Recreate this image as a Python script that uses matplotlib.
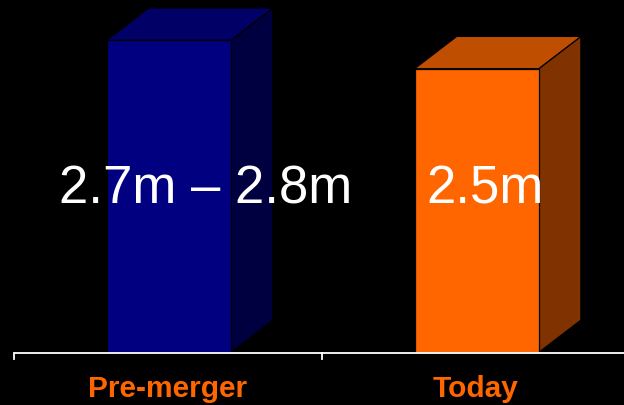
import matplotlib
matplotlib.use("Agg")
import matplotlib.pyplot as plt
from matplotlib.patches import Polygon

categories = ["Pre-merger", "Today"]
value_low = [2.7, 2.5]
value_high = [2.8, 2.5]
value_labels = ["2.7m \u2013 2.8m", "2.5m"]

front_colors = ["#000080", "#FF6600"]
top_colors = ["#000066", "#C04E00"]
side_colors = ["#000040", "#803300"]

fig = plt.figure(figsize=(6.24, 4.05), dpi=100, facecolor="black")
ax = fig.add_axes([0, 0, 1, 1])
ax.set_facecolor("black")
ax.set_xlim(-14 / 308, 610 / 308)
ax.set_ylim(-52.5 / 113.5, 352.5 / 113.5)
ax.axis("off")

bar_w = 0.403
dx, dy = 0.137, 0.285
label_dx = [0.122, 0.028]

for i, cat in enumerate(categories):
    h = (value_low[i] + value_high[i]) / 2
    x0 = i + 0.5 - bar_w / 2 + 0.002
    x1 = x0 + bar_w
    kw = dict(closed=True, edgecolor="black", linewidth=0.9, joinstyle="miter")
    # side face
    ax.add_patch(Polygon([(x1, 0), (x1 + dx, dy), (x1 + dx, h + dy), (x1, h)],
                         facecolor=side_colors[i], zorder=2, **kw))
    # top face
    ax.add_patch(Polygon([(x0, h), (x1, h), (x1 + dx, h + dy), (x0 + dx, h + dy)],
                         facecolor=top_colors[i], zorder=2, **kw))
    # front face
    ax.add_patch(Polygon([(x0, 0), (x1, 0), (x1, h), (x0, h)],
                         facecolor=front_colors[i], zorder=3, **kw))
    ax.text(i + 0.5 + label_dx[i], 1.317, value_labels[i], color="white",
            fontsize=38, family="Liberation Sans", ha="center", va="baseline", zorder=5)
    ax.text(i + 0.5, -0.392, cat, color="#FF6600", fontsize=21.5, fontweight="bold",
            family="Liberation Sans", ha="center", va="baseline", zorder=5)

# category axis with tick marks between groups
ax.plot([0, 2], [0, 0], color="white", lw=1.3, zorder=4, solid_capstyle="butt")
for t in [0, 1, 2]:
    ax.plot([t, t], [0, -6 / 113.5], color="white", lw=1.3, zorder=4)

fig.savefig("out.png", dpi=100, facecolor="black")
